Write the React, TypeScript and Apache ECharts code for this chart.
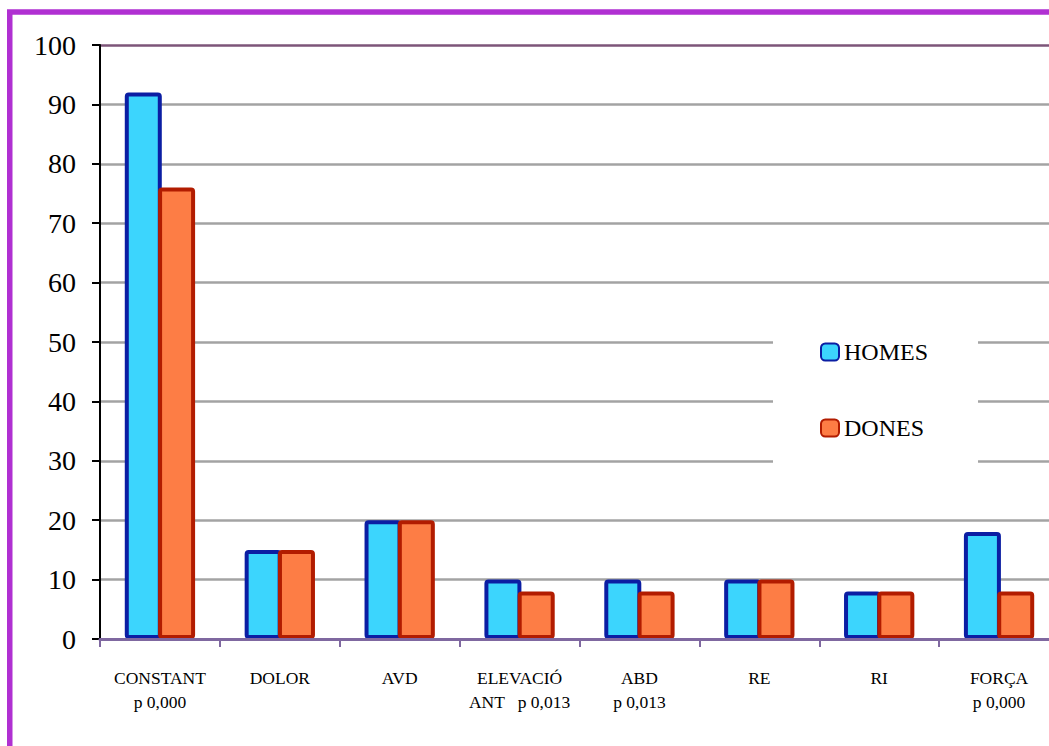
import React, { useEffect, useRef } from "react";
import * as echarts from "echarts";

const categories = [
  "CONSTANT\np 0,000",
  "DOLOR",
  "AVD",
  "ELEVACIÓ\nANT   p 0,013",
  "ABD\np 0,013",
  "RE",
  "RI",
  "FORÇA\np 0,000",
];
const homes = [92, 15, 20, 10, 10, 10, 8, 18];
const dones = [76, 15, 20, 8, 8, 10, 8, 8];
const seriesNames = ["HOMES", "DONES"];
const yMin = 0;
const yMax = 100;
const yInterval = 10;

const FONT = "'Liberation Serif', 'DejaVu Serif', serif";

export default function App() {
  const ref = useRef<HTMLDivElement>(null);
  useEffect(() => {
    if (!ref.current) return;
    const chart = echarts.init(ref.current, undefined, { renderer: "svg" });
    const splitColors = Array.from({ length: 11 }, (_, i) => (i === 10 ? "#7d5579" : "#a3a3a3"));
    chart.setOption({
      animation: false,
      graphic: [
        {
          type: "rect",
          shape: { x: 9.75, y: 12, width: 1200, height: 900 },
          style: { fill: "none", stroke: "#b030d2", lineWidth: 5.5 },
          z: 100,
        },
      ],
      grid: { left: 100, top: 45, bottom: 107, right: 0, containLabel: false },
      legend: {
        orient: "vertical",
        left: 773,
        top: 318,
        padding: [22, 50, 30, 47],
        backgroundColor: "#ffffff",
        itemWidth: 18,
        itemHeight: 17,
        itemGap: 52,
        textStyle: { fontFamily: FONT, fontSize: 24, color: "#000", lineHeight: 24 },
        data: seriesNames,
      },
      xAxis: {
        type: "category",
        data: categories,
        boundaryGap: true,
        axisLine: { lineStyle: { color: "#7f68a0", width: 3 } },
        axisTick: { show: true, length: 8, alignWithLabel: false, lineStyle: { color: "#7f68a0", width: 2 } },
        axisLabel: {
          interval: 0,
          margin: 27,
          fontFamily: FONT,
          fontSize: 17.5,
          lineHeight: 24,
          color: "#000",
        },
        z: 5,
      },
      yAxis: {
        type: "value",
        min: yMin,
        max: yMax,
        interval: yInterval,
        axisLine: { show: true, lineStyle: { color: "#000", width: 2 } },
        axisTick: { show: true, length: 8, lineStyle: { color: "#000", width: 2 } },
        axisLabel: { margin: 24, fontFamily: FONT, fontSize: 28, color: "#000" },
        splitLine: { show: true, lineStyle: { color: splitColors, width: 2.5 } },
      },
      series: [
        {
          name: seriesNames[0],
          type: "bar",
          data: homes,
          barWidth: 37,
          barGap: "-10%",
          itemStyle: { color: "#3cd5fd", borderColor: "#0b1ea3", borderWidth: 4, borderRadius: 2 },
        },
        {
          name: seriesNames[1],
          type: "bar",
          data: dones,
          barWidth: 37,
          barGap: "-10%",
          itemStyle: { color: "#fd7d45", borderColor: "#b21c00", borderWidth: 4, borderRadius: 2 },
        },
      ],
    });
    return () => chart.dispose();
  }, []);
  return (
    <div
      ref={ref}
      style={{ position: "fixed", left: 0, top: 0, width: 1059, height: 746, background: "#fff" }}
    />
  );
}
